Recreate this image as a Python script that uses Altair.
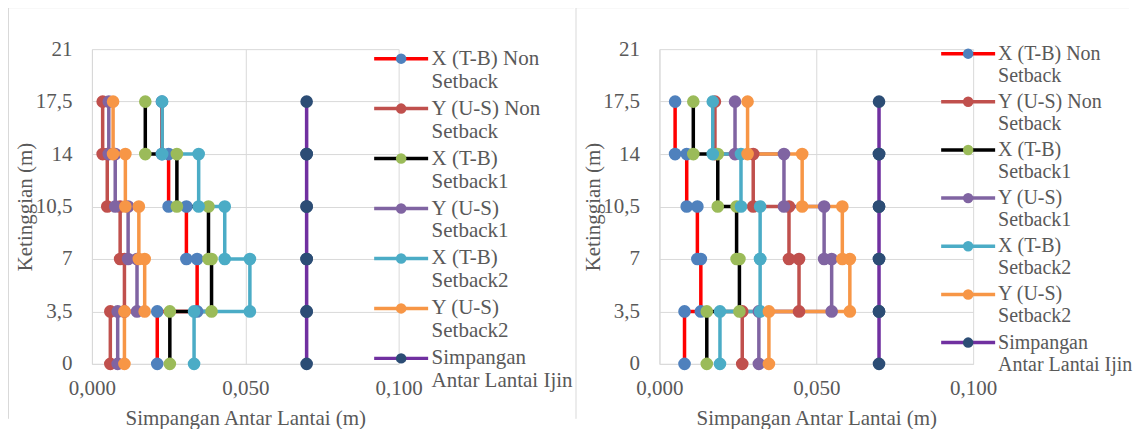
import altair as alt
import pandas as pd

levels = [0, 3.5, 7, 10.5, 14, 17.5]
series = ["X (T-B) Non Setback", "Y (U-S) Non Setback", "X (T-B) Setback1",
          "Y (U-S) Setback1", "X (T-B) Setback2", "Y (U-S) Setback2",
          "Simpangan Antar Lantai Ijin"]
legend_lines = ["X (T-B) Non|Setback", "Y (U-S) Non|Setback", "X (T-B)|Setback1",
                "Y (U-S)|Setback1", "X (T-B)|Setback2", "Y (U-S)|Setback2",
                "Simpangan|Antar Lantai Ijin"]
line_colors = ["#FF0000", "#C0504D", "#000000", "#8064A2", "#4BACC6", "#F79646", "#7030A0"]
marker_colors = ["#4F81BD", "#C0504D", "#9BBB59", "#8064A2", "#4BACC6", "#F79646", "#2C4D75"]

# story drifts (story 1..5), left chart
left_x_ns = [0.0213, 0.0343, 0.0308, 0.0250, 0.0228]
left_y_ns = [0.0060, 0.0106, 0.0092, 0.0050, 0.0035]
left_x_s1 = [0.0254, 0.0390, 0.0380, 0.0277, 0.0174]
left_y_s1 = [0.0084, 0.0147, 0.0118, 0.0076, 0.0055]
left_x_s2 = [0.0333, 0.0515, 0.0433, 0.0348, 0.0229]
left_y_s2 = [0.0106, 0.0172, 0.0153, 0.0109, 0.0069]
left_ijin = [0.070, 0.070, 0.070, 0.070, 0.070]

# story drifts (story 1..5), right chart
right_x_ns = [0.0080, 0.0132, 0.0121, 0.0087, 0.0050]
right_y_ns = [0.0264, 0.0445, 0.0413, 0.0299, 0.0177]
right_x_s1 = [0.0151, 0.0255, 0.0246, 0.0186, 0.0108]
right_y_s1 = [0.0317, 0.0549, 0.0525, 0.0397, 0.0241]
right_x_s2 = [0.0193, 0.0321, 0.0321, 0.0260, 0.0170]
right_y_s2 = [0.0349, 0.0607, 0.0583, 0.0455, 0.0281]
right_ijin = [0.070, 0.070, 0.070, 0.070, 0.070]

x_ticks = [0, 0.05, 0.1]
y_ticks = [0, 3.5, 7, 10.5, 14, 17.5, 21]

FONT = "Liberation Serif"
TXT = "#595959"
GRID = "#D9D9D9"
FS = 21


def build(drift_sets):
    rows = []
    for name, drifts in zip(series, drift_sets):
        i = 0
        for k, d in enumerate(drifts):
            for h in (levels[k], levels[k + 1]):
                rows.append({"series": name, "series_m": name, "drift": d,
                             "height": h, "idx": i})
                i += 1
    return pd.DataFrame(rows)


left_df = build([left_x_ns, left_y_ns, left_x_s1, left_y_s1, left_x_s2, left_y_s2, left_ijin])
right_df = build([right_x_ns, right_y_ns, right_x_s1, right_y_s1, right_x_s2, right_y_s2, right_ijin])

lab_expr = ("split(" + str(legend_lines) + "[indexof(" + str(series) + ", datum.label)], '|')")


def panel(df, w, h, leg_y, row_pad, leg_fs, frame_right):
    x = alt.X("drift:Q", scale=alt.Scale(domain=[0, 0.1]),
              axis=alt.Axis(values=x_ticks, title="Simpangan Antar Lantai (m)",
                            labelExpr="replace(format(datum.value, '.3f'), '.', ',')",
                            labelFlush=False, labelPadding=14, titleY=55,
                            titleBaseline="middle"))
    y = alt.Y("height:Q", scale=alt.Scale(domain=[0, 21]),
              axis=alt.Axis(values=y_ticks, title="Ketinggian (m)",
                            labelExpr="replace(toString(datum.value), '.', ',')",
                            labelFlush=False, labelPadding=20, titleX=-66,
                            titleY=h / 2, titleBaseline="middle"))
    common_leg = dict(orient="none", legendX=299, legendY=leg_y, title=None,
                      labelExpr=lab_expr, labelFont=FONT, labelFontSize=leg_fs,
                      labelColor=TXT, labelLimit=400, labelOffset=20,
                      rowPadding=row_pad, symbolSize=110)
    lines = alt.Chart(df).mark_line(strokeWidth=3.5).encode(
        x=x, y=y,
        stroke=alt.Stroke("series:N", sort=series,
                          scale=alt.Scale(domain=series, range=line_colors),
                          legend=alt.Legend(symbolType="M-5.15,0H5.15",
                                            symbolStrokeWidth=3.5, **common_leg)),
        order="idx:Q",
    )
    pts = alt.Chart(df).mark_circle(size=160, opacity=1).encode(
        x=x, y=y,
        fill=alt.Fill("series_m:N", sort=series,
                      scale=alt.Scale(range=marker_colors),
                      legend=alt.Legend(symbolType="circle", symbolStrokeWidth=0,
                                        symbolOpacity=1, labelOpacity=0, zindex=2,
                                        **common_leg)),
    )
    one = alt.Data(values=[{"k": 1}])
    frame = [
        alt.Chart(one).mark_rule(color=GRID, strokeWidth=1).encode(
            x=alt.value(-83.5), y=alt.value(-41.5), y2=alt.value(h + 55)),
        alt.Chart(one).mark_rule(color=GRID, strokeWidth=1).encode(
            x=alt.value(-83.5), x2=alt.value(frame_right), y=alt.value(-41.5)),
    ]
    if frame_right < 470:
        frame.append(alt.Chart(one).mark_rule(color=GRID, strokeWidth=1).encode(
            x=alt.value(frame_right), y=alt.value(-41.5), y2=alt.value(h + 55)))
    return alt.layer(lines, pts, *frame).properties(width=w, height=h)


left = panel(left_df, 307, 315, -1, 5, 21, 482.5)
right = panel(right_df, 314, 315, -5.5, 6.2, 20, 470)

chart = alt.hconcat(left, right, spacing=261, bounds="flush").resolve_scale(
    stroke="independent", fill="independent"
).resolve_legend(stroke="independent", fill="independent").properties(
    padding={"left": 0, "top": -1, "right": 0, "bottom": 0}
).configure_view(stroke=None).configure_axis(
    gridColor=GRID, domainColor=GRID, ticks=False, labelFont=FONT, labelFontSize=FS,
    labelColor=TXT, titleFont=FONT, titleFontSize=FS, titleColor=TXT,
    titleFontWeight="normal", gridWidth=1, domainWidth=1
)

chart.save("out.html", embed_options={"renderer": "svg", "actions": False})
